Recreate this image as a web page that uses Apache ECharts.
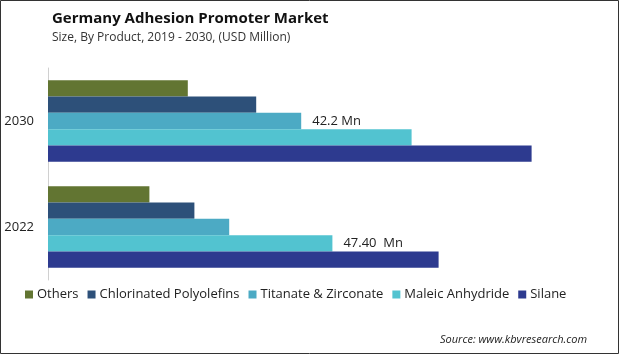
<!DOCTYPE html>
<html>
<head>
<meta charset="utf-8">
<script src="https://cdn.jsdelivr.net/npm/echarts@6/dist/echarts.min.js"></script>
<style>
  html, body { margin: 0; padding: 0; background: #fff; }
  #main { width: 619px; height: 354px; }
</style>
</head>
<body>
<div id="main"></div>
<script>
// data -----------------------------------
var years = ['2022', '2030'];
var others = [16.9, 23.3];
var chlorinated = [24.4, 34.7];
var titanate = [30.2, 42.2];
var maleic = [47.4, 60.6];
var silane = [65.1, 80.6];
var legendNames = ['Others', 'Chlorinated Polyolefins', 'Titanate & Zirconate', 'Maleic Anhydride', 'Silane'];
var colors = ['#627532', '#2D5079', '#4CAAC4', '#52C3D0', '#2D3A8F'];

function chart1() {
    var myChart = echarts.init(document.getElementById('main'));
    var font = '"Open Sans", "Noto Sans", sans-serif';

    // only these two bars carry a value label
    function labelFor(valueText, idx) {
        return {
            show: true,
            position: 'right',
            distance: 11,
            color: '#222',
            fontSize: 13,
            fontFamily: font,
            formatter: function (p) {
                return p.dataIndex === idx ? valueText : '';
            }
        };
    }

    function bar(name, data, color, label) {
        return {
            name: name,
            type: 'bar',
            data: data,
            barCategoryGap: '23%',
            barGap: '0%',
            itemStyle: { color: color },
            label: label || { show: false },
            emphasis: { disabled: true }
        };
    }

    var option = {
        animation: false,
        title: [
            {
                text: 'Germany Adhesion Promoter Market',
                left: 47,
                top: 6,
                textStyle: { fontSize: 15, fontWeight: 'bold', color: '#111', fontFamily: font }
            },
            {
                text: 'Size, By Product, 2019 - 2030, (USD Million)',
                left: 47,
                top: 27,
                textStyle: { fontSize: 12, fontWeight: 'normal', color: '#333', fontFamily: font }
            },
            {
                text: 'Source: www.kbvresearch.com',
                left: 435,
                top: 329,
                textStyle: { fontSize: 11, fontStyle: 'italic', fontWeight: 'normal', color: '#222', fontFamily: font }
            }
        ],
        legend: {
            data: legendNames,
            left: 20,
            top: 283,
            icon: 'rect',
            itemWidth: 8,
            itemHeight: 8,
            itemGap: 9,
            textStyle: { fontSize: 13, color: '#222', fontFamily: font, padding: [0, 0, 0, -1] }
        },
        grid: {
            left: 48,
            right: 31,
            top: 68,
            bottom: 74
        },
        xAxis: {
            type: 'value',
            min: 0,
            max: 90,
            show: false
        },
        yAxis: {
            type: 'category',
            data: years,
            axisLine: { show: true, lineStyle: { color: '#d0d0d0', width: 1 } },
            axisTick: { show: false },
            axisLabel: { color: '#222', fontSize: 13, fontFamily: font, margin: 14 }
        },
        // first series sits at the top of each band
        series: [
            bar('Others', others, colors[0]),
            bar('Chlorinated Polyolefins', chlorinated, colors[1]),
            bar('Titanate & Zirconate', titanate, colors[2], labelFor('42.2 Mn', 1)),
            bar('Maleic Anhydride', maleic, colors[3], labelFor('47.40  Mn', 0)),
            bar('Silane', silane, colors[4])
        ],
        graphic: [
            {
                type: 'rect',
                shape: { x: 0.5, y: 0.5, width: 618, height: 353 },
                style: { fill: 'none', stroke: '#333', lineWidth: 1 },
                silent: true
            }
        ]
    };
    myChart.setOption(option);

    window.addEventListener('resize', function () {
        myChart.resize();
    });
}
chart1();
</script>
</body>
</html>
